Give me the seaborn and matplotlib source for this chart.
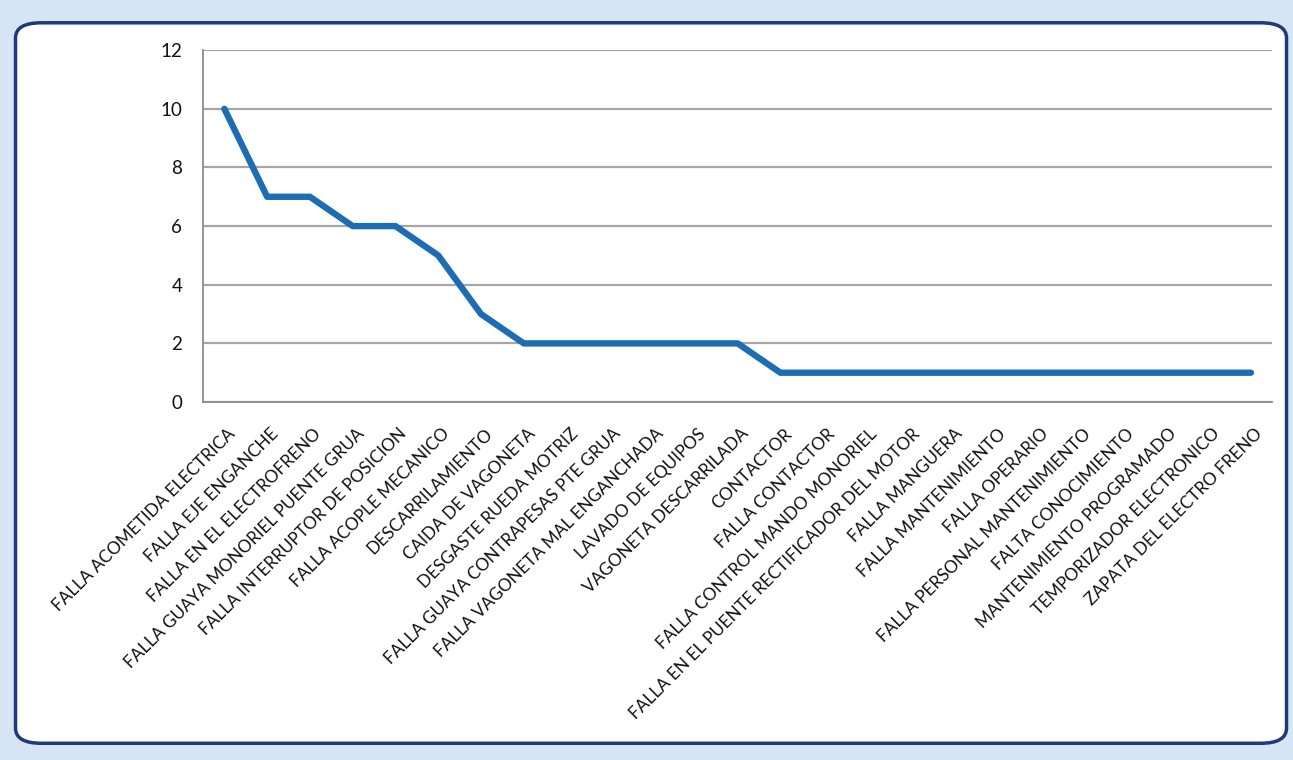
import matplotlib
matplotlib.use("Agg")
import matplotlib.pyplot as plt
import matplotlib.transforms as mtransforms
from matplotlib.patches import FancyBboxPatch
import seaborn as sns
import pandas as pd
import numpy as np

# Failure causes and their counts
causes = [
    "FALLA ACOMETIDA ELECTRICA",
    "FALLA EJE ENGANCHE",
    "FALLA EN EL ELECTROFRENO",
    "FALLA GUAYA MONORIEL PUENTE GRUA",
    "FALLA INTERRUPTOR DE POSICION",
    "FALLA ACOPLE MECANICO",
    "DESCARRILAMIENTO",
    "CAIDA DE VAGONETA",
    "DESGASTE RUEDA MOTRIZ",
    "FALLA GUAYA CONTRAPESAS PTE GRUA",
    "FALLA VAGONETA MAL ENGANCHADA",
    "LAVADO DE EQUIPOS",
    "VAGONETA DESCARRILADA",
    "CONTACTOR",
    "FALLA CONTACTOR",
    "FALLA CONTROL MANDO MONORIEL",
    "FALLA EN EL PUENTE RECTIFICADOR DEL MOTOR",
    "FALLA MANGUERA",
    "FALLA MANTENIMIENTO",
    "FALLA OPERARIO",
    "FALLA PERSONAL MANTENIMIENTO",
    "FALTA CONOCIMIENTO",
    "MANTENIMIENTO PROGRAMADO",
    "TEMPORIZADOR ELECTRONICO",
    "ZAPATA DEL ELECTRO FRENO",
]
counts = [10, 7, 7, 6, 6, 5, 3, 2, 2, 2, 2, 2, 2,
          1, 1, 1, 1, 1, 1, 1, 1, 1, 1, 1, 1]
y_ticks = [0, 2, 4, 6, 8, 10, 12]

df = pd.DataFrame({"Causa": causes, "Cantidad": counts})

sns.set_style("white")
plt.rcParams["font.family"] = ["Lato", "DejaVu Sans"]

fig = plt.figure(figsize=(12.93, 7.6), dpi=100)
fig.patch.set_facecolor("#d6e4f4")

# Rounded white chart frame like the spreadsheet chart object
frame = FancyBboxPatch(
    (0.012, 0.022), 0.983, 0.948,
    boxstyle="round,pad=0,rounding_size=0.02",
    transform=fig.transFigure, facecolor="white",
    edgecolor="#1f3a78", linewidth=2.5, zorder=-5,
)
fig.patches.append(frame)

ax = fig.add_axes([0.157, 0.471, 0.827, 0.463])
ax.set_zorder(1)
ax.patch.set_alpha(0)

x = np.arange(len(causes))
sns.lineplot(x=x, y=df["Cantidad"], ax=ax, color="#1c6db3", linewidth=4.6, sort=False)

ax.set_xlim(-0.5, len(causes) - 0.5)
ax.set_ylim(0, 12)
ax.set_yticks(y_ticks)
ax.yaxis.grid(True, color="#a6a6a6", linewidth=1.6)
ax.set_axisbelow(True)
ax.set_xlabel("")
ax.set_ylabel("")

for side in ["top", "right"]:
    ax.spines[side].set_visible(False)
ax.spines["left"].set_color("#8c8c8c")
ax.spines["bottom"].set_color("#8c8c8c")
ax.spines["left"].set_linewidth(1.3)
ax.spines["bottom"].set_linewidth(1.3)

# Category labels at centers, tick marks at boundaries
ax.set_xticks(x)
ax.set_xticklabels(causes, rotation=45, ha="right", rotation_mode="anchor",
                   fontsize=12.3, color="#111111")
ax.set_xticks(np.arange(-0.5, len(causes)), minor=True)
ax.tick_params(axis="x", which="major", length=0, pad=17)
ax.tick_params(axis="x", which="minor", length=5, color="#8c8c8c", width=1.2)
ax.tick_params(axis="y", length=6, color="#8c8c8c", width=1.2, labelsize=13.5,
               labelcolor="#111111", pad=9)

offset = mtransforms.ScaledTranslation(0.03, 0, fig.dpi_scale_trans)
for lab in ax.get_xticklabels():
    lab.set_transform(lab.get_transform() + offset)

fig.savefig("out.png", dpi=100, facecolor=fig.get_facecolor())
